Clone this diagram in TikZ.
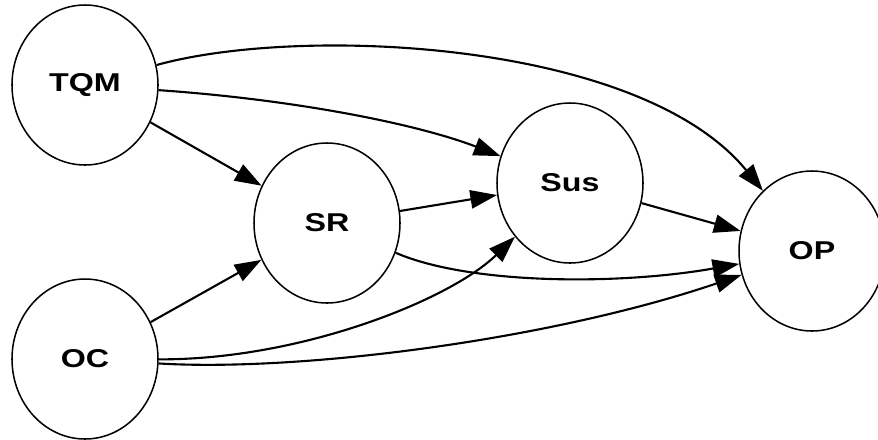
\documentclass[tikz,border=0pt]{standalone}
\usepackage{fontspec}
\usepackage{tikz}
\usetikzlibrary{arrows.meta,shapes.geometric}
\newfontfamily\varfont[FakeStretch=1.25]{Liberation Sans}

\begin{document}
\begin{tikzpicture}[x=0.03cm, y=-0.03cm,
    var/.style={draw, ellipse, line width=1.3pt, minimum width=4.38cm, minimum height=4.8cm,
                inner sep=0pt, font=\varfont\bfseries\fontsize{22}{26}\selectfont},
    edge/.style={line width=1.8pt, -{Triangle[length=0.8cm, width=0.55cm]}}]
    \useasboundingbox (0,0) rectangle (878,439);

    % Constructs
    \node[var] (tqm) at (85,85)  {TQM};
    \node[var] (oc)  at (85,359) {OC};
    \node[var] (sr)  at (327,223) {SR};
    \node[var] (sus) at (570,183) {Sus};
    \node[var] (op)  at (812,251) {OP};

    % Direct paths
    \draw[edge] (tqm) -- (sr);
    \draw[edge] (oc) -- (sr);
    \draw[edge] (sr) -- (sus);
    \draw[edge] (sus) -- (op);

    % Curved paths
    \draw[edge] (tqm) .. controls (300,25) and (640,40) .. (op);
    \draw[edge] (tqm) .. controls (300,100) and (420,125) .. (sus);
    \draw[edge] (oc) .. controls (300,360) and (450,300) .. (sus);
    \draw[edge] (oc) .. controls (300,372) and (550,340) .. (op);
    \draw[edge] (sr) .. controls (470,285) and (620,285) .. (op);
\end{tikzpicture}
\end{document}
